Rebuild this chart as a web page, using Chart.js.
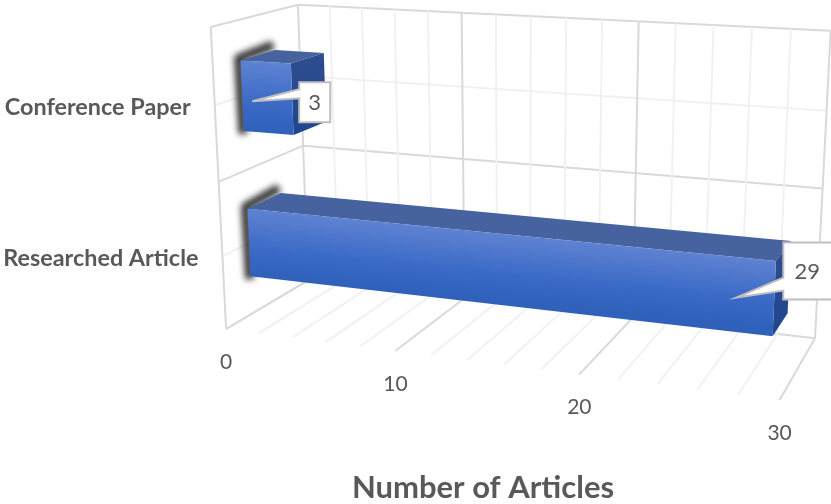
<!DOCTYPE html>
<html>
<head>
<meta charset="utf-8">
<title>Number of Articles</title>
<script src="https://cdn.jsdelivr.net/npm/chart.js@4/dist/chart.umd.min.js"></script>
<style>
  html, body { margin: 0; padding: 0; background: #fff; }
  #wrap { width: 831px; height: 504px; overflow: hidden; }
</style>
</head>
<body>
<div id="wrap"><canvas id="chart" width="831" height="504"></canvas></div>
<script>
const categories = ['Conference Paper', 'Researched Article'];
const articles = [3, 29];
const axisTitle = 'Number of Articles';

const TEXT = '#595959';
const FONT = 'Lato, "Open Sans", sans-serif';
const GRID_MAJOR = '#d9d9d9';
const GRID_MINOR = '#f1f1f1';

// Camera for the 3D box: [u along value axis, c down the category axis, d into the page] -> screen
const cameraRefs = [
  [0, 1, 0, 226, 328], [0, 0, 0, 210, 27], [0, 1, 1, 308, 282], [0, 0, 1, 298, 4],
  [1, 0, 1, 831, 31], [1, 1, 1, 815, 337], [1, 1, 0, 780, 401],
  [1 / 3, 1, 0, 395, 351], [2 / 3, 1, 0, 579, 374],
  [1 / 3, 0, 1, 462, 13], [2 / 3, 0, 1, 638, 22],
  [0, 0.5, 0, 220, 182], [0, 0.5, 1, 303, 145],
];
const barDepth = [0.3, 0.7];

// Callout placement relative to the bar's end, one entry per category
const callouts = [
  { tip: [-40, 2], box: [7, -17, 31, 40], wedge: [7, 16] },
  { tip: [-38, -1], box: [9, -56, 70, 57], wedge: [35, 48] },
];

function solveCamera(refs) {
  const rows = [];
  refs.forEach(([u, c, d, x, y]) => {
    rows.push([1, u, c, d, 0, 0, 0, 0, -x * u, -x * c, -x * d, x]);
    rows.push([0, 0, 0, 0, 1, u, c, d, -y * u, -y * c, -y * d, y]);
  });
  // normal equations, then plain gaussian elimination
  const n = 11;
  const m = [];
  for (let i = 0; i < n; i++) {
    m[i] = [];
    for (let j = 0; j <= n; j++) {
      m[i][j] = rows.reduce((s, r) => s + r[i] * r[j], 0);
    }
  }
  for (let i = 0; i < n; i++) {
    let best = i;
    for (let k = i + 1; k < n; k++) if (Math.abs(m[k][i]) > Math.abs(m[best][i])) best = k;
    [m[i], m[best]] = [m[best], m[i]];
    for (let k = 0; k < n; k++) {
      if (k === i) continue;
      const f = m[k][i] / m[i][i];
      for (let j = i; j <= n; j++) m[k][j] -= f * m[i][j];
    }
  }
  return m.map((row, i) => row[n] / row[i]);
}

const cam = solveCamera(cameraRefs);

function project(u, c, d) {
  const w = 1 + cam[8] * u + cam[9] * c + cam[10] * d;
  return [
    (cam[0] + cam[1] * u + cam[2] * c + cam[3] * d) / w,
    (cam[4] + cam[5] * u + cam[6] * c + cam[7] * d) / w,
  ];
}

function line(ctx, a, b, color, width) {
  ctx.beginPath();
  ctx.moveTo(a[0], a[1]);
  ctx.lineTo(b[0], b[1]);
  ctx.strokeStyle = color;
  ctx.lineWidth = width || 2;
  ctx.stroke();
}

function poly(ctx, pts) {
  ctx.beginPath();
  pts.forEach((p, i) => (i ? ctx.lineTo(p[0], p[1]) : ctx.moveTo(p[0], p[1])));
  ctx.closePath();
}

// Walls and floor, with gridlines taken from the chart's own scales
function drawBox(ctx, chart) {
  const area = chart.chartArea;
  const xs = chart.scales.x;
  const toU = px => (px - area.left) / area.width;

  const cLevels = [0.25, 0.75, 0.5, 0, 1];
  cLevels.forEach(c => {
    const col = (c * 4) % 2 === 1 ? GRID_MINOR : GRID_MAJOR;
    line(ctx, project(0, c, 0), project(0, c, 1), col);
    if (c !== 1) line(ctx, project(0, c, 1), project(1, c, 1), col);
  });
  line(ctx, project(0, 1, 1), project(1, 1, 1), GRID_MAJOR);

  const ticks = xs.ticks.slice().sort((a, b) => (a.value % 10 === 0) - (b.value % 10 === 0));
  ticks.forEach(t => {
    const u = toU(xs.getPixelForValue(t.value));
    const col = t.value % 10 === 0 ? GRID_MAJOR : GRID_MINOR;
    line(ctx, project(u, 1, 0), project(u, 1, 1), col);
    line(ctx, project(u, 1, 1), project(u, 0, 1), col);
  });
  line(ctx, project(0, 0, 0), project(0, 1, 0), GRID_MAJOR);
}

function drawBar(ctx, chart, el) {
  const area = chart.chartArea;
  const u0 = (el.base - area.left) / area.width;
  const u1 = (el.x - area.left) / area.width;
  const c0 = (el.y - el.height / 2 - area.top) / area.height;
  const c1 = (el.y + el.height / 2 - area.top) / area.height;
  const [d0, d1] = barDepth;

  const ftl = project(u0, c0, d0), ftr = project(u1, c0, d0);
  const fbl = project(u0, c1, d0), fbr = project(u1, c1, d0);
  const btl = project(u0, c0, d1), btr = project(u1, c0, d1);
  const bbr = project(u1, c1, d1);

  // soft dark shadow hugging the left side
  ctx.save();
  ctx.filter = 'blur(3px)';
  ctx.beginPath();
  ctx.moveTo(fbl[0] - 1, fbl[1] + 3);
  ctx.lineTo(ftl[0] - 2, ftl[1] - 2);
  ctx.lineTo(btl[0] - 2, btl[1] - 5);
  ctx.strokeStyle = '#333';
  ctx.lineWidth = 9;
  ctx.lineJoin = 'round';
  ctx.stroke();
  ctx.restore();

  poly(ctx, [ftl, ftr, btr, btl]);
  ctx.fillStyle = '#47639f';
  ctx.fill();

  const rightGrad = ctx.createLinearGradient(0, btr[1], 0, fbr[1]);
  rightGrad.addColorStop(0, '#2f4d8d');
  rightGrad.addColorStop(1, '#1f4690');
  poly(ctx, [ftr, btr, bbr, fbr]);
  ctx.fillStyle = rightGrad;
  ctx.fill();

  // front gradient runs square to the bar's sloping top edge
  const ex = ftr[0] - ftl[0], ey = ftr[1] - ftl[1];
  const len = Math.hypot(ex, ey);
  const h = fbl[1] - ftl[1];
  const g = ctx.createLinearGradient(ftl[0], ftl[1], ftl[0] - (ey / len) * h, ftl[1] + (ex / len) * h);
  g.addColorStop(0, '#5f82d2');
  g.addColorStop(0.6, '#3a6ac6');
  g.addColorStop(1, '#2f60ba');
  poly(ctx, [ftl, ftr, fbr, fbl]);
  ctx.fillStyle = g;
  ctx.fill();

  return [(ftr[0] + fbr[0]) / 2, (ftr[1] + fbr[1]) / 2];
}

function drawCallout(ctx, end, layout, text) {
  const tip = [end[0] + layout.tip[0], end[1] + layout.tip[1]];
  const [bx, by, bw, bh] = layout.box;
  const left = end[0] + bx, top = end[1] + by;
  const [w0, w1] = layout.wedge;
  poly(ctx, [
    [left, top], [left + bw, top], [left + bw, top + bh], [left, top + bh],
    [left, top + Math.max(w0, w1)], tip, [left, top + Math.min(w0, w1)],
  ]);
  ctx.fillStyle = '#fff';
  ctx.fill();
  ctx.strokeStyle = '#bfbfbf';
  ctx.lineWidth = 2;
  ctx.lineJoin = 'miter';
  ctx.stroke();

  ctx.fillStyle = TEXT;
  ctx.font = '22px ' + FONT;
  ctx.textAlign = 'center';
  ctx.textBaseline = 'middle';
  const cx = left + Math.min(bw, 831 - left) / 2;
  ctx.fillText(text, cx, top + bh / 2 + 1);
}

function drawText(ctx, chart) {
  const area = chart.chartArea;
  const xs = chart.scales.x;
  const ys = chart.scales.y;
  ctx.fillStyle = TEXT;
  ctx.textBaseline = 'middle';

  ctx.font = '21px ' + FONT;
  ctx.textAlign = 'center';
  xs.ticks.filter(t => t.value % 10 === 0).forEach(t => {
    const p = project((xs.getPixelForValue(t.value) - area.left) / area.width, 1, 0);
    ctx.fillText(String(t.value), p[0], p[1] + 33);
  });

  ctx.font = 'bold 23.4px ' + FONT;
  ctx.textAlign = 'right';
  categories.forEach((name, i) => {
    const p = project(0, (ys.getPixelForValue(i) - area.top) / area.height, 0);
    ctx.fillText(name, p[0] - 24, p[1] + 2);
  });

  ctx.font = 'bold 31px ' + FONT;
  ctx.textAlign = 'center';
  ctx.fillText(axisTitle, 483, 488);
}

const box3d = {
  id: 'box3d',
  afterDatasetsDraw(chart) {
    const ctx = chart.ctx;
    const bars = chart.getDatasetMeta(0).data;
    ctx.save();
    drawBox(ctx, chart);
    const ends = bars.map(el => drawBar(ctx, chart, el));
    ends.forEach((end, i) => drawCallout(ctx, end, callouts[i], String(articles[i])));
    drawText(ctx, chart);
    ctx.restore();
  },
};

new Chart(document.getElementById('chart'), {
  type: 'bar',
  data: {
    labels: categories,
    datasets: [{
      label: axisTitle,
      data: articles,
      backgroundColor: 'transparent',
      barPercentage: 0.47,
      categoryPercentage: 1,
    }],
  },
  options: {
    indexAxis: 'y',
    responsive: false,
    animation: false,
    layout: { padding: 0 },
    plugins: { legend: { display: false }, tooltip: { enabled: false } },
    scales: {
      x: { display: false, min: 0, max: 30, ticks: { stepSize: 2 } },
      y: { display: false },
    },
  },
  plugins: [box3d],
});
</script>
</body>
</html>
